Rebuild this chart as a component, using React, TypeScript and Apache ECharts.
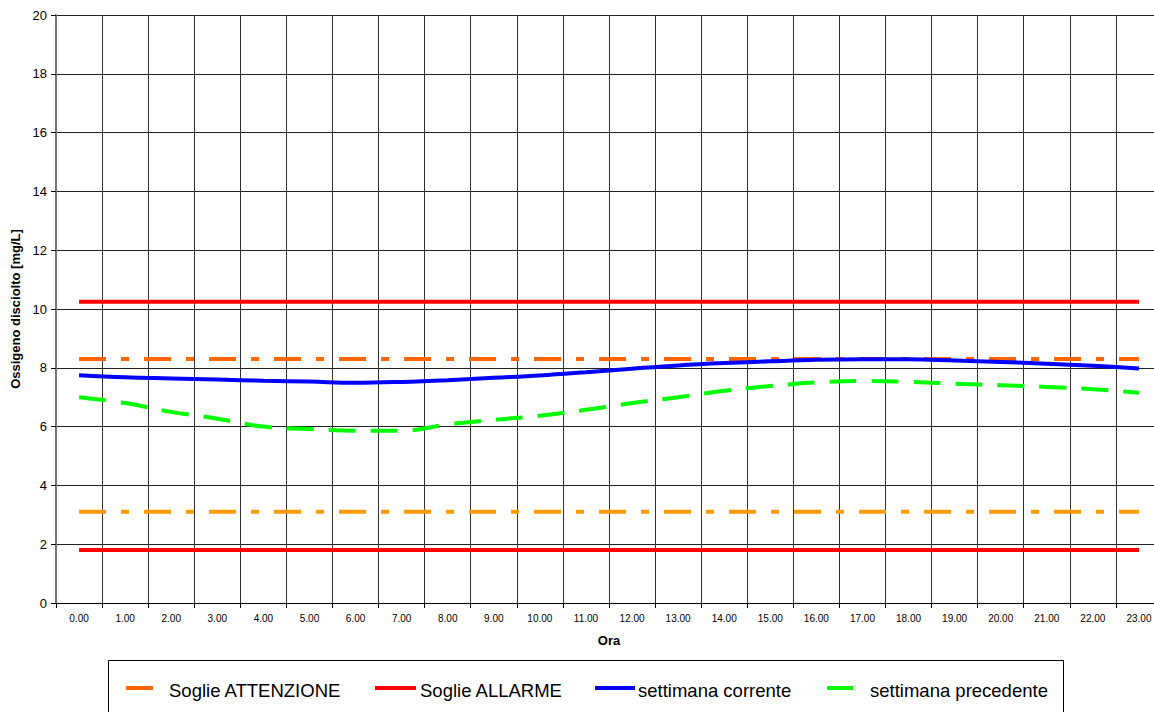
import React, { useEffect, useRef } from "react";
import * as echarts from "echarts";

const ore = [
  "0.00", "1.00", "2.00", "3.00", "4.00", "5.00", "6.00", "7.00", "8.00", "9.00", "10.00", "11.00",
  "12.00", "13.00", "14.00", "15.00", "16.00", "17.00", "18.00", "19.00", "20.00", "21.00", "22.00", "23.00",
];

const sogliaAttenzioneAlta = 8.3;
const sogliaAttenzioneBassa = 3.1;
const sogliaAllarmeAlta = 10.25;
const sogliaAllarmeBassa = 1.8;

const settimanaCorrente = [
  7.75, 7.68, 7.64, 7.6, 7.56, 7.53, 7.49, 7.52, 7.58, 7.66, 7.74, 7.85,
  7.97, 8.08, 8.16, 8.22, 8.27, 8.29, 8.29, 8.25, 8.2, 8.14, 8.07, 7.98,
];

const settimanaPrecedente = [
  7.0, 6.8, 6.5, 6.27, 6.0, 5.92, 5.86, 5.86, 6.07, 6.23, 6.37, 6.57,
  6.8, 7.0, 7.22, 7.38, 7.5, 7.55, 7.52, 7.46, 7.41, 7.35, 7.27, 7.15,
];

const nomiSerie = ["Soglie ATTENZIONE", "Soglie ALLARME", "settimana corrente", "settimana precedente"];

const FONT = "'Liberation Sans', Arial, sans-serif";

export default function App() {
  const ref = useRef<HTMLDivElement>(null);

  useEffect(() => {
    if (!ref.current) return;
    const chart = echarts.init(ref.current, null, { renderer: "svg" });

    const costante = (v: number) => ore.map(() => v);

    const legendItems = [
      { name: nomiSerie[0], color: "#FF6600", x1: 126, x2: 153, tx: 169 },
      { name: nomiSerie[1], color: "#FF0000", x1: 375, x2: 416, tx: 420 },
      { name: nomiSerie[2], color: "#0000FF", x1: 595, x2: 635, tx: 638 },
      { name: nomiSerie[3], color: "#00FF00", x1: 827, x2: 853, tx: 870 },
    ];
    const legendY = 688;

    const graphic: any[] = [
      {
        type: "rect",
        shape: { x: 108.5, y: 660.5, width: 955, height: 60 },
        style: { fill: "#fff", stroke: "#000", lineWidth: 1 },
        z: 10,
      },
    ];
    legendItems.forEach((it) => {
      graphic.push({
        type: "line",
        shape: { x1: it.x1, y1: legendY, x2: it.x2, y2: legendY },
        style: { stroke: it.color, lineWidth: 4 },
        z: 11,
      });
      graphic.push({
        type: "text",
        x: it.tx,
        y: 690,
        style: {
          text: it.name,
          fill: "#000",
          font: `18.5px ${FONT}`,
          textVerticalAlign: "middle",
          verticalAlign: "middle",
        },
        z: 11,
      });
    });

    const option: any = {
      animation: false,
      backgroundColor: "#fff",
      textStyle: { fontFamily: FONT },
      grid: { left: 56, top: 15, width: 1106, height: 588, outerBoundsMode: "none", containLabel: false },
      xAxis: {
        type: "category",
        data: ore,
        boundaryGap: true,
        name: "Ora",
        nameLocation: "middle",
        nameGap: 31,
        nameTextStyle: { fontFamily: FONT, fontWeight: "bold", fontSize: 13, color: "#000" },
        axisLine: { lineStyle: { color: "#000", width: 1 } },
        axisTick: { show: true, length: 5, interval: 0, alignWithLabel: false, lineStyle: { color: "#000" } },
        axisLabel: { interval: 0, fontSize: 10, color: "#000", margin: 10, fontFamily: FONT },
        splitLine: { show: true, interval: 0, lineStyle: { color: "#333", width: 1 } },
      },
      yAxis: {
        type: "value",
        min: 0,
        max: 20,
        interval: 2,
        name: "Ossigeno disciolto [mg/L]",
        nameLocation: "middle",
        nameGap: 31,
        nameTextStyle: { fontFamily: FONT, fontWeight: "bold", fontSize: 13, color: "#000" },
        axisLine: { show: true, lineStyle: { color: "#777", width: 2 } },
        axisTick: { show: true, length: 5, lineStyle: { color: "#000" } },
        axisLabel: { fontSize: 13, color: "#000", margin: 9, fontFamily: FONT },
        splitLine: { show: true, lineStyle: { color: "#222", width: 1 } },
      },
      series: [
        {
          name: nomiSerie[0],
          type: "line",
          data: costante(sogliaAttenzioneAlta),
          showSymbol: false,
          lineStyle: { color: "#FF6600", width: 4, type: [27, 15, 8, 15], cap: "butt" },
          z: 2,
        },
        {
          name: nomiSerie[0] + " ",
          type: "line",
          data: costante(sogliaAttenzioneBassa),
          showSymbol: false,
          lineStyle: { color: "#FF9900", width: 4, type: [27, 15, 8, 15], cap: "butt" },
          z: 2,
        },
        {
          name: nomiSerie[1],
          type: "line",
          data: costante(sogliaAllarmeAlta),
          showSymbol: false,
          lineStyle: { color: "#FF0000", width: 4 },
          z: 3,
        },
        {
          name: nomiSerie[1] + " ",
          type: "line",
          data: costante(sogliaAllarmeBassa),
          showSymbol: false,
          lineStyle: { color: "#FF0000", width: 4 },
          z: 3,
        },
        {
          name: nomiSerie[2],
          type: "line",
          data: settimanaCorrente,
          smooth: 0.4,
          showSymbol: false,
          lineStyle: { color: "#0000FF", width: 4 },
          z: 4,
        },
        {
          name: nomiSerie[3],
          type: "line",
          data: settimanaPrecedente,
          smooth: 0.4,
          showSymbol: false,
          lineStyle: { color: "#00FF00", width: 4, type: [27, 15], cap: "butt" },
          z: 5,
        },
      ],
      graphic,
    };

    chart.setOption(option);
    return () => chart.dispose();
  }, []);

  return (
    <div
      ref={ref}
      style={{ position: "absolute", left: 0, top: 0, width: 1154, height: 712, background: "#fff" }}
    />
  );
}
